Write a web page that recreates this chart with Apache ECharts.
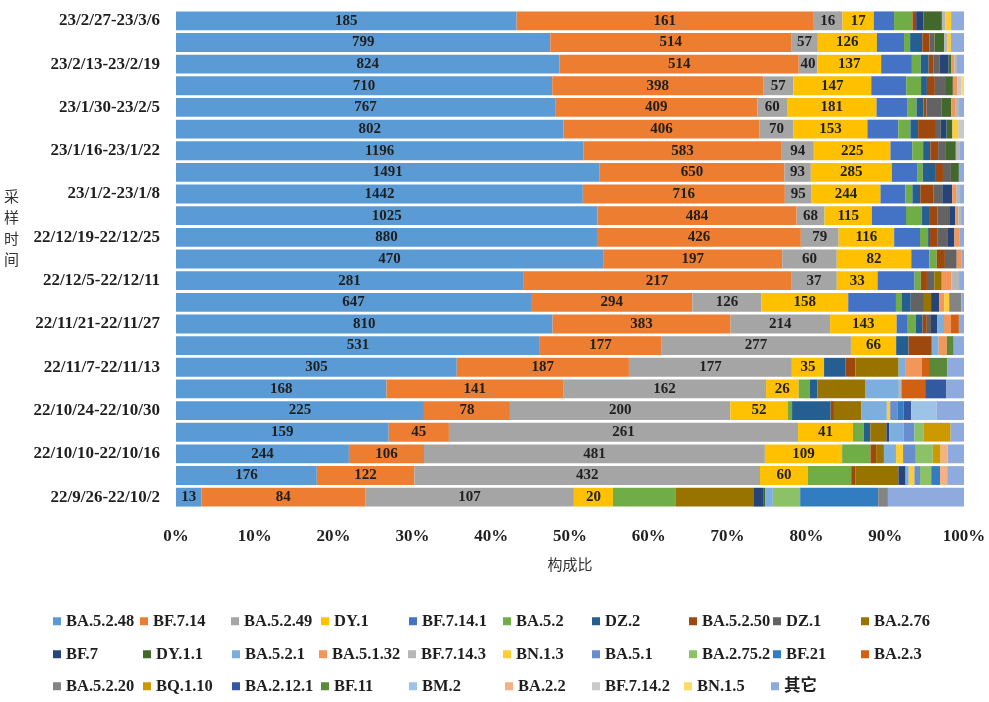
<!DOCTYPE html>
<html><head><meta charset="utf-8">
<script src="https://cdn.jsdelivr.net/npm/echarts@6/dist/echarts.min.js"></script>
<style>html,body{margin:0;padding:0;background:#fff}#c{width:989px;height:702px}</style>
</head><body><div id="c"></div>
<script>
// ---- data (bottom row first, chronological) ----
const categories = ['22/9/26-22/10/2','22/10/3-22/10/9','22/10/10-22/10/16','22/10/17-22/10/23','22/10/24-22/10/30','22/10/31-22/11/6','22/11/7-22/11/13','22/11/14-22/11/20','22/11/21-22/11/27','22/11/28-22/12/4','22/12/5-22/12/11','22/12/12-22/12/18','22/12/19-22/12/25','22/12/26-23/1/1','23/1/2-23/1/8','23/1/9-23/1/15','23/1/16-23/1/22','23/1/23-23/1/29','23/1/30-23/2/5','23/2/6-23/2/12','23/2/13-23/2/19','23/2/20-23/2/26','23/2/27-23/3/6'];
const seriesNames = ['BA.5.2.48','BF.7.14','BA.5.2.49','DY.1','BF.7.14.1','BA.5.2','DZ.2','BA.5.2.50','DZ.1','BA.2.76','BF.7','DY.1.1','BA.5.2.1','BA.5.1.32','BF.7.14.3','BN.1.3','BA.5.1','BA.2.75.2','BF.21','BA.2.3','BA.5.2.20','BQ.1.10','BA.2.12.1','BF.11','BM.2','BA.2.2','BF.7.14.2','BN.1.5','其它'];
const xTicks = [0,10,20,30,40,50,60,70,80,90,100];

const v_BA_5_2_48 = [13,176,244,159,225,168,305,531,810,647,281,470,880,1025,1442,1491,1196,802,767,710,824,799,185];
const v_BF_7_14   = [84,122,106,45,78,141,187,177,383,294,217,197,426,484,716,650,583,406,409,398,514,514,161];
const v_BA_5_2_49 = [107,432,481,261,200,162,177,277,214,126,37,60,79,68,95,93,94,70,60,57,40,57,16];
const v_DY_1      = [20,60,109,41,52,26,35,66,143,158,33,82,116,115,244,285,225,153,181,147,137,126,17];
const v_BF_7_14_1 = [0,0,0,0,0,0,0,0,24,87,30,20,54,83,88,91,64,64,63,66,66,58,11];
const v_BA_5_2    = [32,54,40,8,4,9,0,0,17,11,5,8,17,39,25,18,32,25,18,28,19,13,10];
const v_DZ_2      = [0,0,0,5,35,6,23,18,15,16,0,0,4,17,28,46,21,16,14,11,17,26,0];
const v_BA_5_2_50 = [0,5,8,0,3,0,11,34,9,0,5,9,15,20,46,25,23,35,6,15,11,15,2];
const v_DZ_1      = [0,0,0,0,0,0,0,0,9,24,6,13,21,29,32,28,23,12,30,21,13,11,0];
const v_BA_2_76   = [40,54,11,12,25,38,47,0,0,13,6,0,0,0,0,0,0,0,0,0,0,0,0];
const v_BF_7      = [5,9,0,2,0,0,0,0,13,15,0,0,15,15,35,0,0,12,0,0,19,0,4];
const v_DY_1_1    = [1,0,0,0,0,0,0,0,0,0,0,0,0,0,0,28,29,12,20,13,6,21,10];
const v_BA_5_2_1  = [4,4,17,11,23,27,7,10,15,0,0,0,0,0,0,0,0,0,0,0,0,0,0];
const v_BA_5_1_32 = [0,0,0,0,0,0,18,12,15,9,8,5,10,7,14,0,0,0,8,8,6,0,0];
const v_BF_7_14_3 = [0,0,0,0,0,2,0,0,0,0,6,0,0,7,14,0,12,0,8,0,6,6,2];
const v_BN_1_3    = [0,7,10,0,3,0,0,0,0,9,0,0,0,0,0,0,0,12,0,0,0,8,3];
const v_BA_5_1    = [0,7,18,8,7,0,0,0,0,0,0,0,0,0,0,0,0,0,0,0,0,0,0];
const v_BA_2_75_2 = [14,14,24,7,0,0,0,0,0,0,0,0,0,0,0,0,0,0,0,0,0,0,0];
const v_BF_21     = [40,11,0,0,5,0,0,0,0,0,0,0,0,0,0,0,0,0,0,0,0,0,0];
const v_BA_2_3    = [0,0,0,0,0,19,8,0,17,0,0,0,0,0,0,0,0,0,0,0,0,0,0];
const v_BA_5_2_20 = [5,0,0,0,0,0,0,0,0,22,0,0,0,0,0,0,0,0,0,0,0,0,0];
const v_BQ_1_10   = [0,0,11,20,0,0,0,0,0,0,0,0,0,0,0,0,0,0,0,0,0,0,0];
const v_BA_2_12_1 = [0,0,0,0,7,17,0,0,0,0,0,0,0,0,0,0,0,0,0,0,0,0,0];
const v_BF_11     = [0,0,0,0,0,0,20,10,0,0,0,0,0,0,0,0,0,0,0,0,0,0,0];
const v_BM_2      = [0,0,0,0,23,0,0,0,0,0,0,0,0,0,0,0,0,0,0,0,0,0,0];
const v_BA_2_2    = [0,9,10,0,0,0,0,0,0,0,0,0,0,0,0,0,0,0,0,0,0,0,0];
const v_BF_7_14_2 = [0,0,0,0,0,0,0,0,0,0,0,0,0,0,0,0,0,12,0,8,0,0,0];
const v_BN_1_5    = [0,0,0,0,0,0,0,0,0,0,0,0,0,0,0,0,0,0,0,5,0,0,0];
const v_other     = [39,21,23,10,25,14,18,15,11,5,4,3,10,7,14,18,12,0,10,0,15,28,7];

// ---- styles ----
const colors = ['#5B9BD5','#ED7D31','#A5A5A5','#FFC000','#4472C4','#70AD47',
  '#255E91','#9E480E','#636363','#997300','#264478','#43682B',
  '#7CAFDD','#F1975A','#B7B7B7','#FFCD33','#698ED0','#8CC168',
  '#327DC2','#D26012','#848484','#CC9A00','#335AA1','#5A8A39',
  '#9DC3E6','#F4B183','#C9C9C9','#FFD966','#8FAADC'];
const legendLayout = [
  [53,613],[140,613],[231,613],[321,613],[409,613],[503,613],[592,613],[689,613],[773,613],[861,613],
  [53,646],[143,646],[232,646],[319,646],[408,646],[503,646],[592,646],[689,646],[773,646],[861,646],
  [53,678],[143,678],[232,678],[321,678],[409,678],[505,678],[592,678],[684,678],[771,678]
];

const counts = [v_BA_5_2_48,v_BF_7_14,v_BA_5_2_49,v_DY_1,v_BF_7_14_1,v_BA_5_2,v_DZ_2,v_BA_5_2_50,v_DZ_1,v_BA_2_76,v_BF_7,v_DY_1_1,v_BA_5_2_1,v_BA_5_1_32,v_BF_7_14_3,v_BN_1_3,v_BA_5_1,v_BA_2_75_2,v_BF_21,v_BA_2_3,v_BA_5_2_20,v_BQ_1_10,v_BA_2_12_1,v_BF_11,v_BM_2,v_BA_2_2,v_BF_7_14_2,v_BN_1_5,v_other];
const totals = categories.map((c,i)=>counts.reduce((s,a)=>s+a[i],0));

const serif = "'Liberation Serif','Times New Roman','Noto Sans CJK SC',serif";
const series = seriesNames.map((name,si)=>({
  name, type:'bar', stack:'total', barCategoryGap:'13%',
  itemStyle:{color:colors[si]},
  label:{show: si<4, position:'inside', color:'#1f1f1f', fontFamily:serif, fontWeight:'bold', fontSize:15,
    formatter:p=>{const v=counts[si][p.dataIndex]; return v>0? String(v):'';}},
  emphasis:{disabled:true},
  data: counts[si].map((v,i)=> v/totals[i]*100)
}));

const legends = seriesNames.map((name,i)=>({
  data:[name], left:legendLayout[i][0], top:legendLayout[i][1], padding:0,
  icon:'rect', itemWidth:8, itemHeight:8, itemGap:0, selectedMode:false,
  textStyle:{fontFamily:serif, fontWeight:'bold', fontSize:16.5, color:'#1f1f1f'}
}));

const chart = echarts.init(document.getElementById('c'));
chart.setOption({
  animation:false,
  backgroundColor:'#fff',
  color: colors,
  grid:{left:176, right:25, top:10, bottom:194, containLabel:false},
  legend: legends,
  xAxis:{type:'value', min:xTicks[0], max:xTicks[xTicks.length-1], interval:xTicks[1]-xTicks[0],
    axisLine:{show:false}, axisTick:{show:false}, splitLine:{show:false},
    axisLabel:{formatter:'{value}%', fontFamily:serif, fontWeight:'bold', fontSize:17, color:'#1f1f1f', margin:20},
    name:'构成比', nameLocation:'middle', nameGap:49,
    nameTextStyle:{fontFamily:"'Noto Sans CJK SC',sans-serif", fontSize:15, color:'#333'}
  },
  yAxis:{type:'category', data:categories,
    axisLine:{show:false}, axisTick:{show:false}, splitLine:{show:false},
    axisLabel:{interval:1, fontFamily:serif, fontWeight:'bold', fontSize:17, color:'#1f1f1f', margin:16}
  },
  graphic:[{type:'text', left:4, top:186, style:{text:'采\n样\n时\n间', font:"15px 'Noto Sans CJK SC'", fill:'#333', lineHeight:21}}],
  series
});
</script></body></html>
